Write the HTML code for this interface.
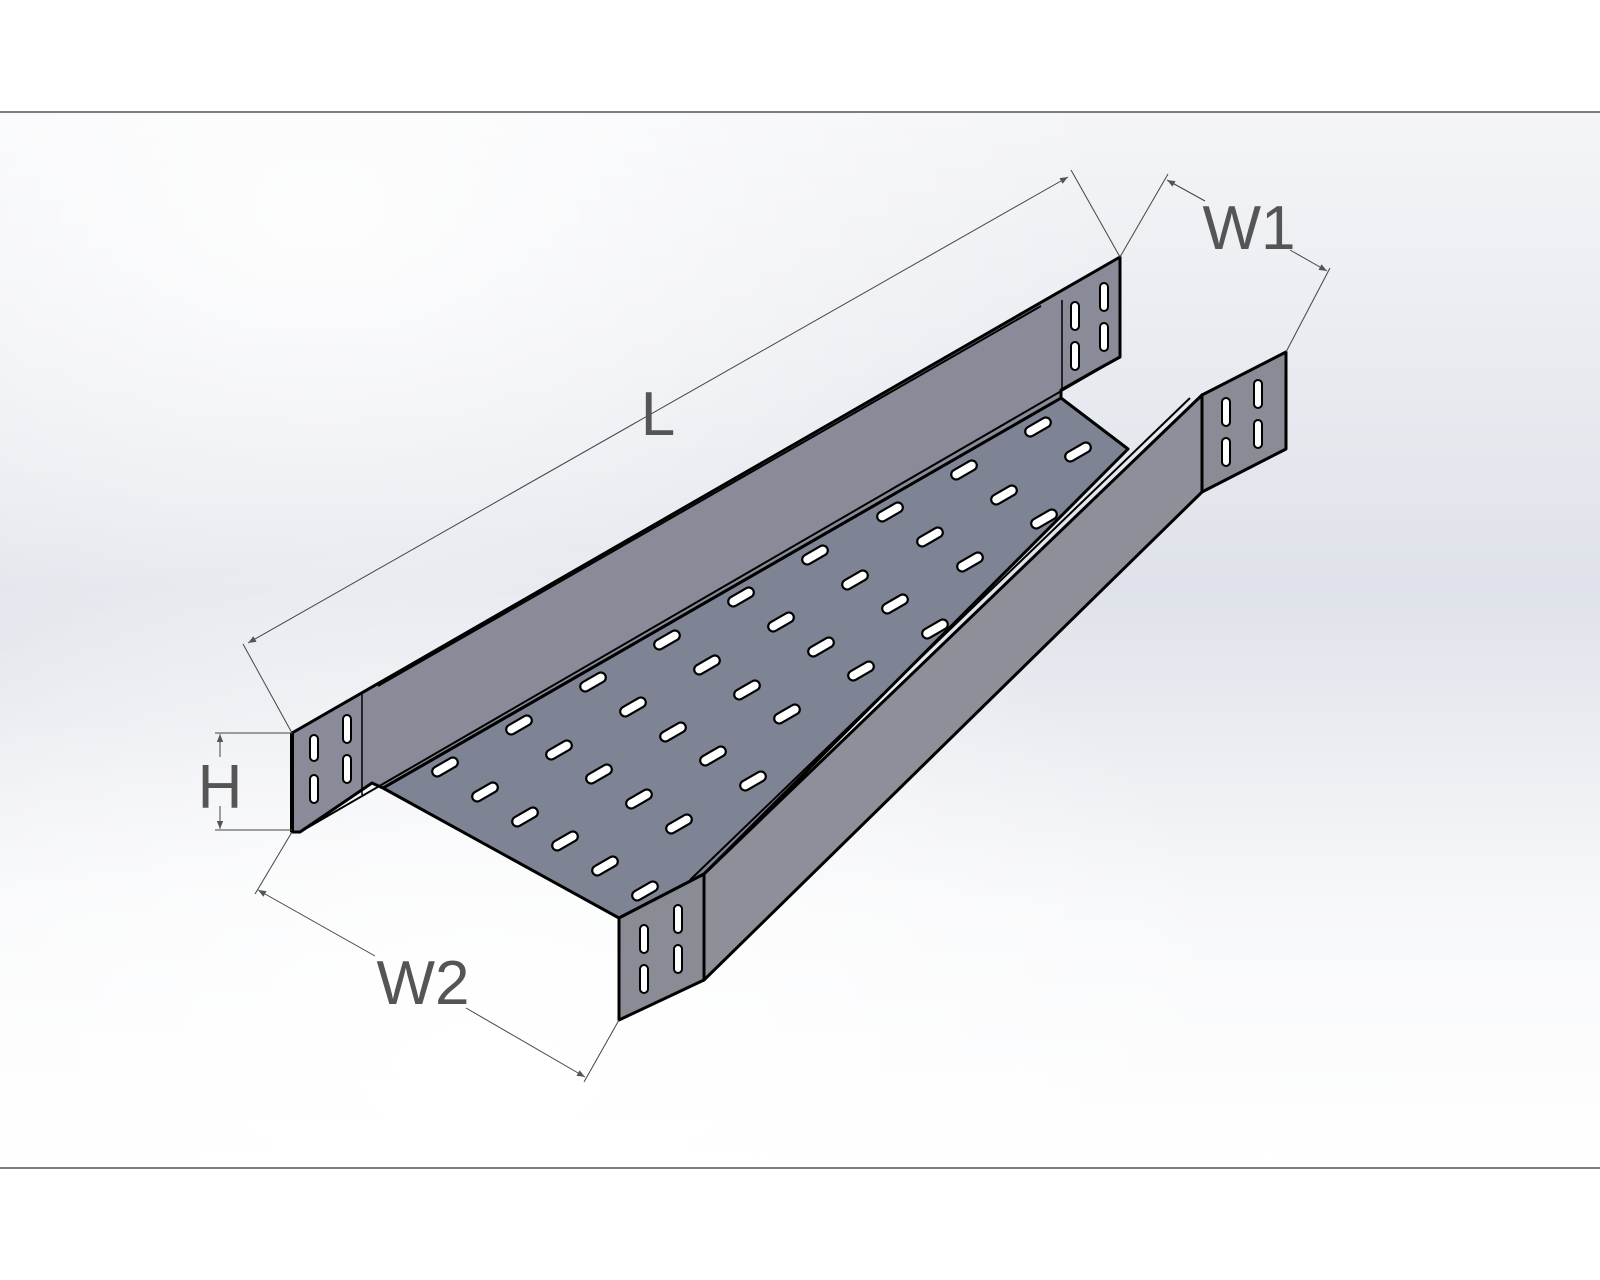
<!DOCTYPE html>
<html><head><meta charset="utf-8"><style>
html,body{margin:0;padding:0;background:#fff}
svg{display:block}
text{font-family:"Liberation Sans",sans-serif;fill:#555}
</style></head><body>
<svg width="1600" height="1280" viewBox="0 0 1600 1280" xmlns="http://www.w3.org/2000/svg">
<defs>
<linearGradient id="bg" x1="0" y1="0" x2="0" y2="1">
<stop offset="0" stop-color="#f4f5f8"/>
<stop offset="0.45" stop-color="#dfe2ea"/>
<stop offset="0.75" stop-color="#f7f8fa"/>
<stop offset="1" stop-color="#ffffff"/>
</linearGradient>
<radialGradient id="w1" cx="0.2" cy="0.1" r="0.5">
<stop offset="0" stop-color="#ffffff" stop-opacity="0.9"/>
<stop offset="1" stop-color="#ffffff" stop-opacity="0"/>
</radialGradient>
<radialGradient id="w2" cx="0.3" cy="0.9" r="0.5">
<stop offset="0" stop-color="#ffffff" stop-opacity="1"/>
<stop offset="1" stop-color="#ffffff" stop-opacity="0"/>
</radialGradient>
<marker id="ar" viewBox="0 0 10 10" refX="10" refY="5" markerWidth="16" markerHeight="8" orient="auto-start-reverse" markerUnits="userSpaceOnUse">
<path d="M0,1 L10,5 L0,9 z" fill="#555"/>
</marker>
<rect id="h" x="-14" y="-5" width="28" height="10" rx="5"/>
</defs>
<rect x="0" y="0" width="1600" height="1280" fill="#fff"/>
<rect x="0" y="112" width="1600" height="1056" fill="url(#bg)"/>
<rect x="0" y="112" width="1600" height="1056" fill="url(#w1)"/>
<rect x="0" y="112" width="1600" height="1056" fill="url(#w2)"/>
<line x1="0" y1="112" x2="1600" y2="112" stroke="#333" stroke-width="1.2"/>
<line x1="0" y1="1168" x2="1600" y2="1168" stroke="#333" stroke-width="1.2"/>

<g stroke="#000" stroke-width="3" stroke-linejoin="round">
<!-- floor -->
<polygon points="383,788 1061,398 1128,449 704,874 619,918" fill="#7e8494"/>
<!-- left wall -->
<polygon points="292,733 1120,257 1120,357 1100,368 1061,390 1061,398 383,788 372,783 300,832 292,832" fill="#898c98"/>
<polyline points="300,832 1120,357" fill="none" stroke-width="2"/>
<polyline points="378,686 1041,306" fill="none" stroke-width="2"/>
<!-- right sloped wall -->
<polygon points="704,874 1202,395 1202,492 704,980" fill="#8e9099"/>
<polyline points="690,880 1190,398" fill="none" stroke-width="2"/>
<!-- right front plate -->
<polygon points="619,918 704,874 704,980 619,1020" fill="#898b95"/>
<!-- right back plate -->
<polygon points="1202,395 1286,352 1286,449 1202,492" fill="#898b95"/>
</g>
<line x1="292" y1="733" x2="292" y2="832" stroke="#000" stroke-width="4"/>
<line x1="362" y1="693" x2="362" y2="795" stroke="#000" stroke-width="1.5"/>
<line x1="1062" y1="300" x2="1062" y2="390" stroke="#000" stroke-width="1.5"/>

<!-- plate slots -->
<g fill="#fff" stroke="#000" stroke-width="2">
<rect x="310" y="735" width="8" height="26" rx="4"/><rect x="310" y="775" width="8" height="28" rx="4"/>
<rect x="343" y="715" width="8" height="28" rx="4"/><rect x="343" y="755" width="8" height="28" rx="4"/>
<rect x="1071" y="302" width="8" height="28" rx="4"/><rect x="1071" y="342" width="8" height="28" rx="4"/>
<rect x="1100" y="283" width="8" height="28" rx="4"/><rect x="1100" y="323" width="8" height="28" rx="4"/>
<rect x="1222" y="398" width="8" height="28" rx="4"/><rect x="1222" y="438" width="8" height="28" rx="4"/>
<rect x="1254" y="380" width="8" height="28" rx="4"/><rect x="1254" y="420" width="8" height="28" rx="4"/>
<rect x="640" y="925" width="8" height="28" rx="4"/><rect x="640" y="965" width="8" height="28" rx="4"/>
<rect x="674" y="905" width="8" height="28" rx="4"/><rect x="674" y="945" width="8" height="28" rx="4"/>
</g>

<!-- floor holes -->
<g fill="#fff" stroke="#000" stroke-width="2.2">
<use href="#h" transform="translate(445,767) rotate(-30)"/><use href="#h" transform="translate(485,792) rotate(-30)"/><use href="#h" transform="translate(525,817) rotate(-30)"/><use href="#h" transform="translate(565,841) rotate(-30)"/><use href="#h" transform="translate(605,866) rotate(-30)"/><use href="#h" transform="translate(645,891) rotate(-30)"/>
<use href="#h" transform="translate(519,725) rotate(-30)"/><use href="#h" transform="translate(559,750) rotate(-30)"/><use href="#h" transform="translate(599,774) rotate(-30)"/><use href="#h" transform="translate(639,799) rotate(-30)"/><use href="#h" transform="translate(679,824) rotate(-30)"/>
<use href="#h" transform="translate(593,682) rotate(-30)"/><use href="#h" transform="translate(633,707) rotate(-30)"/><use href="#h" transform="translate(673,732) rotate(-30)"/><use href="#h" transform="translate(713,756) rotate(-30)"/><use href="#h" transform="translate(753,781) rotate(-30)"/>
<use href="#h" transform="translate(667,640) rotate(-30)"/><use href="#h" transform="translate(707,665) rotate(-30)"/><use href="#h" transform="translate(747,690) rotate(-30)"/><use href="#h" transform="translate(787,714) rotate(-30)"/>
<use href="#h" transform="translate(741,597) rotate(-30)"/><use href="#h" transform="translate(781,622) rotate(-30)"/><use href="#h" transform="translate(821,647) rotate(-30)"/><use href="#h" transform="translate(861,671) rotate(-30)"/>
<use href="#h" transform="translate(815,555) rotate(-30)"/><use href="#h" transform="translate(855,580) rotate(-30)"/><use href="#h" transform="translate(895,604) rotate(-30)"/><use href="#h" transform="translate(935,629) rotate(-30)"/>
<use href="#h" transform="translate(890,512) rotate(-30)"/><use href="#h" transform="translate(930,537) rotate(-30)"/><use href="#h" transform="translate(970,562) rotate(-30)"/>
<use href="#h" transform="translate(964,470) rotate(-30)"/><use href="#h" transform="translate(1004,495) rotate(-30)"/><use href="#h" transform="translate(1044,519) rotate(-30)"/>
<use href="#h" transform="translate(1038,427) rotate(-30)"/><use href="#h" transform="translate(1078,452) rotate(-30)"/>
</g>

<!-- dimensions -->
<g stroke="#444" stroke-width="1" fill="none">
<line x1="292" y1="733" x2="243" y2="644"/>
<line x1="1120" y1="257" x2="1071" y2="170"/>
<line x1="248" y1="643" x2="1068" y2="177" marker-start="url(#ar)" marker-end="url(#ar)"/>
<line x1="1120" y1="257" x2="1168" y2="174"/>
<line x1="1286" y1="352" x2="1330" y2="268"/>
<line x1="1167" y1="180" x2="1205" y2="201" marker-start="url(#ar)"/>
<line x1="1290" y1="250" x2="1327" y2="271" marker-end="url(#ar)"/>
<line x1="215" y1="733" x2="292" y2="733"/>
<line x1="215" y1="830" x2="292" y2="830"/>
<line x1="220" y1="757" x2="220" y2="734" marker-end="url(#ar)"/>
<line x1="220" y1="806" x2="220" y2="829" marker-end="url(#ar)"/>
<line x1="292" y1="832" x2="255" y2="894"/>
<line x1="619" y1="1020" x2="584" y2="1082"/>
<line x1="375" y1="956" x2="258" y2="890" marker-end="url(#ar)"/>
<line x1="466" y1="1008" x2="585" y2="1077" marker-end="url(#ar)"/>
</g>
<text x="658" y="435" font-size="62" text-anchor="middle">L</text>
<text x="1249" y="249" font-size="62" text-anchor="middle">W1</text>
<text x="220" y="808" font-size="62" text-anchor="middle">H</text>
<text x="423" y="1004" font-size="62" text-anchor="middle">W2</text>
</svg>
</body></html>
